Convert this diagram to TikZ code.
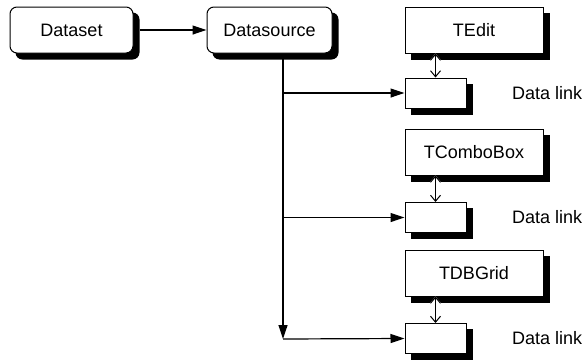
\documentclass[tikz,border=0pt]{standalone}
\usepackage{fontspec}
\setmainfont{Liberation Sans}
\usetikzlibrary{arrows.meta,backgrounds}

\begin{document}
\begin{tikzpicture}[x=1pt,y=-1pt,
          every node/.style={font=\fontsize{18}{21}\selectfont},
          shbox/.style={draw,line width=1pt,fill=white},
          srcbox/.style={shbox,rounded corners=7pt,minimum width=123pt,minimum height=46pt},
          ctlbox/.style={shbox,minimum width=138pt,minimum height=46pt},
          linkbox/.style={shbox,minimum width=61pt,minimum height=30pt},
          flow/.style={line width=1.2pt,-{Triangle[length=14pt,width=9pt]}},
          both/.style={line width=1pt,{Straight Barb[length=6pt,width=10pt]}-{Straight Barb[length=6pt,width=10pt]},
                       preaction={draw=white,line width=3pt}}]
        \useasboundingbox (0,0) rectangle (587,362);
        % source side
        \node[srcbox] (dset) at (71.5,30) {Dataset};
        \node[srcbox,minimum width=125pt] (dsrc) at (269.5,30) {Datasource};
        \draw[flow,shorten <=6pt] (dset.east) -- (dsrc.west);
        % controls and their data links
        \node[ctlbox] (edit)  at (474,30)  {TEdit};
        \node[ctlbox] (combo) at (474,152) {TComboBox};
        \node[ctlbox] (grid)  at (474,273) {TDBGrid};
        \node[linkbox] (lk1) at (435.5,93)    {};
        \node[linkbox] (lk2) at (435.5,217.5) {};
        \node[linkbox] (lk3) at (435.5,338.5) {};
        \node[anchor=west,inner sep=0pt] (t1) at (512,93)    {Data link};
        \node[anchor=west,inner sep=0pt] (t2) at (512,217.5) {Data link};
        \node[anchor=west,inner sep=0pt] (t3) at (512,338.5) {Data link};
        % black shadows behind the boxes
        \begin{scope}[on background layer]
          \foreach \b in {dset,dsrc}
            \fill[rounded corners=7pt] ([xshift=6pt,yshift=-6pt]\b.south west) rectangle ([xshift=6pt,yshift=-6pt]\b.north east);
          \foreach \b in {edit,combo,grid,lk1,lk2,lk3}
            \fill ([xshift=6pt,yshift=-6pt]\b.south west) rectangle ([xshift=6pt,yshift=-6pt]\b.north east);
        \end{scope}
        \draw[both] (edit.south -| lk1.north)  -- (lk1.north);
        \draw[both] (combo.south -| lk2.north) -- (lk2.north);
        \draw[both] (grid.south -| lk3.north)  -- (lk3.north);
        % trunk from the datasource
        \coordinate (trunk) at (283,59);
        \coordinate (trunkend) at (283,339);
        \draw[flow] (trunk) -- (trunkend);
        \draw[flow] (trunk |- lk1.west) -- (lk1.west);
        \draw[flow] (trunk |- lk2.west) -- (lk2.west);
        \draw[flow] (trunkend) -- (lk3.west);
\end{tikzpicture}
\end{document}
